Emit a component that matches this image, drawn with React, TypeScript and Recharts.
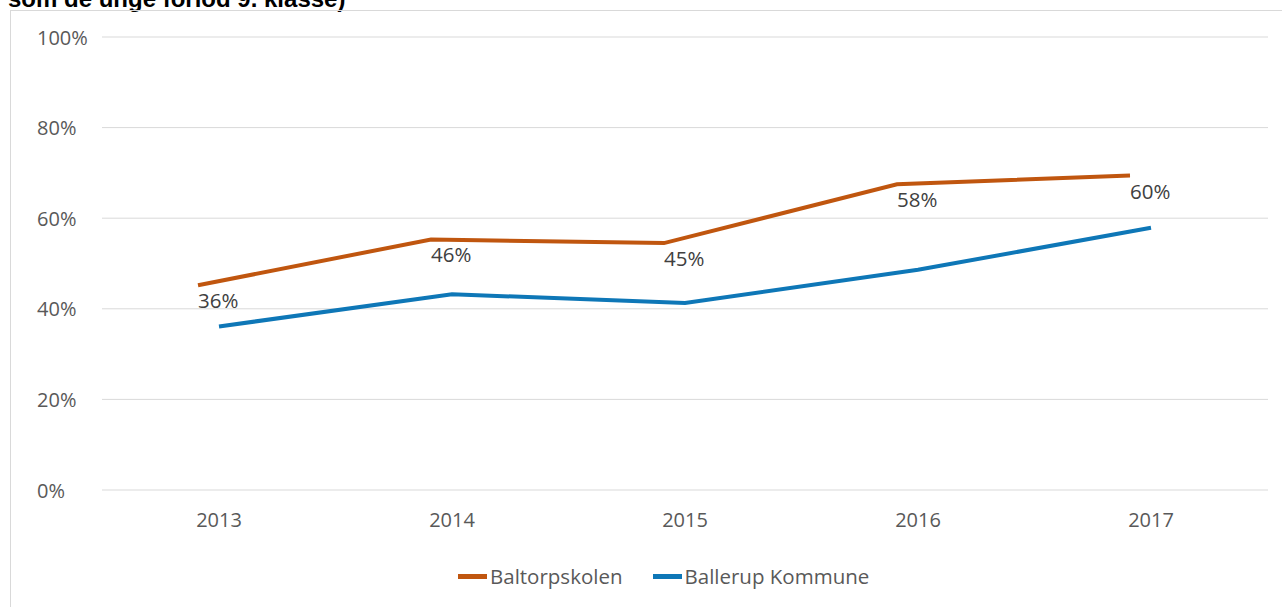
import React from 'react'
import { LineChart, Line, XAxis, YAxis, CartesianGrid, Legend, LabelList } from 'recharts'

const years = ['2013', '2014', '2015', '2016', '2017']
const baltorp = [45.2, 55.3, 54.5, 67.5, 69.4]
const ballerup = [36.1, 43.2, 41.3, 48.6, 57.9]
const baltorpLabels = ['36%', '46%', '45%', '58%', '60%']
const yTicks = [0, 20, 40, 60, 80, 100]

const data = years.map((year, i) => ({
  year,
  baltorp: baltorp[i],
  ballerup: ballerup[i],
  label: baltorpLabels[i],
}))

const FONT = '"Open Sans", sans-serif'
const ORANGE = '#C0560F'
const BLUE = '#0E77B7'
const TICK = '#595959'

const YTick = (props: any) => (
  <text x={props.x - 65} y={props.y + 7.5} textAnchor="start" fill={TICK} fontSize={20} fontFamily={FONT}>
    {props.payload.value}%
  </text>
)

const XTick = (props: any) => (
  <text x={props.x} y={props.y + 37} textAnchor="middle" fill={TICK} fontSize={20} fontFamily={FONT}>
    {props.payload.value}
  </text>
)

const PointLabel = (props: any) => (
  <text x={props.x} y={props.y + 23} textAnchor="start" fill="#404040" fontSize={20.5} fontFamily={FONT}>
    {props.value}
  </text>
)

const LegendContent = () => (
  <div style={{ display: 'flex', alignItems: 'center', height: 30, fontFamily: FONT, fontSize: 20.5, color: TICK }}>
    <span style={{ width: 29, height: 5, background: ORANGE, marginRight: 3 }} />
    <span style={{ marginRight: 30 }}>Baltorpskolen</span>
    <span style={{ width: 29, height: 5, background: BLUE, marginRight: 3 }} />
    <span>Ballerup Kommune</span>
  </div>
)

export default function App() {
  return (
    <div style={{ position: 'fixed', left: 0, top: 0, width: 1282, height: 607, overflow: 'hidden', background: '#fff' }}>
      <div
        style={{
          position: 'absolute',
          left: 8,
          top: -13,
          lineHeight: '24px',
          fontFamily: '"Liberation Sans", Arial, sans-serif',
          fontWeight: 'bold',
          fontSize: 24,
          whiteSpace: 'nowrap',
        }}
      >
        som de unge forlod 9. klasse)
      </div>
      <div style={{ position: 'absolute', left: 10, top: 10, width: 1300, height: 700, border: '1px solid #d9d9d9' }} />
      <div style={{ position: 'absolute', left: 0, top: 0 }}>
        <LineChart width={1282} height={607} data={data} margin={{ top: 37, right: 14, left: 0, bottom: 16 }}>
          <CartesianGrid vertical={false} stroke="#d9d9d9" strokeWidth={1} />
          <XAxis
            dataKey="year"
            axisLine={false}
            tickLine={false}
            tickSize={0}
            tickMargin={0}
            height={71}
            padding={{ left: 117, right: 117 }}
            tick={<XTick />}
          />
          <XAxis xAxisId="shift" dataKey="year" hide padding={{ left: 96, right: 138 }} />
          <YAxis
            domain={[0, 100]}
            ticks={yTicks}
            width={102}
            axisLine={false}
            tickLine={false}
            tickSize={0}
            tickMargin={0}
            tick={<YTick />}
          />
          <Legend
            verticalAlign="bottom"
            content={<LegendContent />}
            wrapperStyle={{ left: 458, width: 500, height: 30 }}
          />
          <Line
            xAxisId="shift"
            type="linear"
            dataKey="baltorp"
            name="Baltorpskolen"
            stroke={ORANGE}
            strokeWidth={4}
            dot={false}
            isAnimationActive={false}
          >
            <LabelList dataKey="label" content={<PointLabel />} />
          </Line>
          <Line
            type="linear"
            dataKey="ballerup"
            name="Ballerup Kommune"
            stroke={BLUE}
            strokeWidth={4}
            dot={false}
            isAnimationActive={false}
          />
        </LineChart>
      </div>
    </div>
  )
}
